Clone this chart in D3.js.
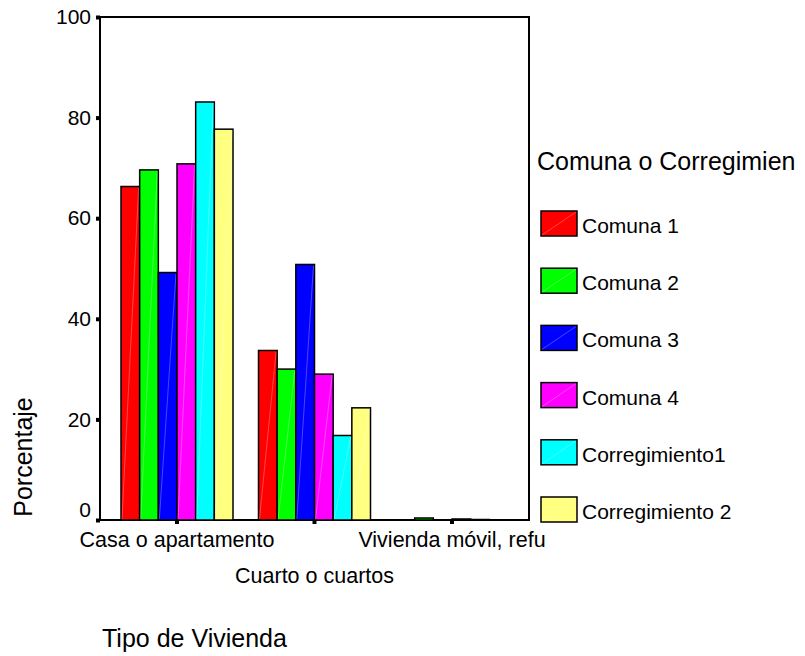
<!DOCTYPE html>
<html>
<head>
<meta charset="utf-8">
<script src="https://cdn.jsdelivr.net/npm/d3@7"></script>
<style>
  body { margin: 0; background: #fff; }
  text { font-family: "Liberation Sans", Arial, sans-serif; fill: #000; }
</style>
</head>
<body>
<svg width="805" height="656"></svg>
<script>
// data
var categories = ['Casa o apartamento', 'Cuarto o cuartos', 'Vivienda móvil, refu'];
var series = ['Comuna 1', 'Comuna 2', 'Comuna 3', 'Comuna 4', 'Corregimiento1', 'Corregimiento 2'];
var comuna1 = [66.3, 33.7, 0];
var comuna2 = [69.6, 30.0, 0.4];
var comuna3 = [49.2, 50.8, 0];
var comuna4 = [70.8, 29.0, 0.2];
var corregimiento1 = [83.1, 16.8, 0.1];
var corregimiento2 = [77.7, 22.3, 0];
var yTicks = [0, 20, 40, 60, 80, 100];
var colors = ['#ff0000', '#00ff00', '#0000ff', '#ff00ff', '#00ffff', '#ffff80'];

var values = [comuna1, comuna2, comuna3, comuna4, corregimiento1, corregimiento2];

var svg = d3.select('svg');
var plotLeft = 100, plotRight = 529, plotTop = 17, plotBottom = 520;

var y = d3.scaleLinear()
  .domain([0, 100])
  .range([plotBottom, plotTop]);

var x0 = d3.scaleBand()
  .domain(categories)
  .range([plotLeft, plotRight])
  .paddingInner(0)
  .paddingOuter(0.06);

var x1 = d3.scaleBand()
  .domain(series)
  .range([x0.bandwidth() / 2 - 56, x0.bandwidth() / 2 + 56]);

var color = d3.scaleOrdinal()
  .domain(series)
  .range(colors);

var rows = [];
categories.forEach(function(c, i) {
  series.forEach(function(s, j) {
    rows.push({cat: c, ser: s, val: values[j][i]});
  });
});

// frame
svg.append('rect')
  .attr('x', plotLeft).attr('y', plotTop)
  .attr('width', plotRight - plotLeft).attr('height', plotBottom - plotTop)
  .attr('fill', 'none').attr('stroke', '#000').attr('stroke-width', 2);

var bars = svg.append('g').selectAll('g').data(rows).enter().append('g');

bars.append('rect')
  .attr('x', function(d) { return x0(d.cat) + x1(d.ser); })
  .attr('y', function(d) { return y(d.val); })
  .attr('width', x1.bandwidth())
  .attr('height', function(d) { return plotBottom - y(d.val); })
  .attr('fill', function(d) { return color(d.ser); })
  .attr('stroke', '#000')
  .attr('stroke-width', 1.5);

// faint diagonal highlight, like the original
bars.filter(function(d) { return d.val > 2; }).append('line')
  .attr('x1', function(d) { return x0(d.cat) + x1(d.ser) + 1; })
  .attr('y1', plotBottom - 1)
  .attr('x2', function(d) { return x0(d.cat) + x1(d.ser) + x1.bandwidth() - 1; })
  .attr('y2', function(d) { return y(d.val) + 1; })
  .attr('stroke', '#fff')
  .attr('stroke-opacity', 0.35)
  .attr('stroke-width', 0.8);

// y axis
var yAxis = d3.axisLeft(y).tickValues(yTicks).tickSize(4).tickPadding(5);
var gy = svg.append('g').attr('transform', 'translate(' + plotLeft + ',0)').call(yAxis);
gy.select('.domain').remove();
gy.selectAll('.tick line').attr('stroke', '#000').attr('stroke-width', 4);
gy.selectAll('.tick text')
  .style('font-size', '21px')
  .attr('font-family', null)
  .attr('y', function(d) { return d === 0 ? -10 : 0; });

// x axis
var xAxis = d3.axisBottom(x0).tickSize(4).tickPadding(6);
var gx = svg.append('g').attr('transform', 'translate(0,' + plotBottom + ')').call(xAxis);
gx.select('.domain').remove();
gx.selectAll('.tick line').attr('stroke', '#000').attr('stroke-width', 4);
gx.selectAll('.tick text')
  .style('font-size', '21.5px')
  .attr('font-family', null)
  .attr('dy', null)
  .attr('y', function(d, i) { return i === 1 ? 63 : 27; });

// axis titles
svg.append('text')
  .attr('transform', 'translate(32,' + 457 + ') rotate(-90)')
  .attr('text-anchor', 'middle')
  .style('font-size', '25px')
  .text('Porcentaje');

svg.append('text')
  .attr('x', 102).attr('y', 647)
  .style('font-size', '25px')
  .text('Tipo de Vivienda');

// legend
svg.append('text')
  .attr('x', 537).attr('y', 170)
  .style('font-size', '25px')
  .text('Comuna o Corregimien');

var legend = svg.append('g').selectAll('g').data(series).enter().append('g')
  .attr('transform', function(d, i) { return 'translate(541,' + (211 + i * 57.2) + ')'; });

legend.append('rect')
  .attr('width', 36).attr('height', 25)
  .attr('fill', function(d) { return color(d); })
  .attr('stroke', '#000').attr('stroke-width', 1.5);

legend.append('line')
  .attr('x1', 1).attr('y1', 24).attr('x2', 35).attr('y2', 1)
  .attr('stroke', '#fff').attr('stroke-opacity', 0.35).attr('stroke-width', 0.8);

legend.append('text')
  .attr('x', 41).attr('y', 22)
  .style('font-size', '21px')
  .text(function(d) { return d; });
</script>
</body>
</html>
